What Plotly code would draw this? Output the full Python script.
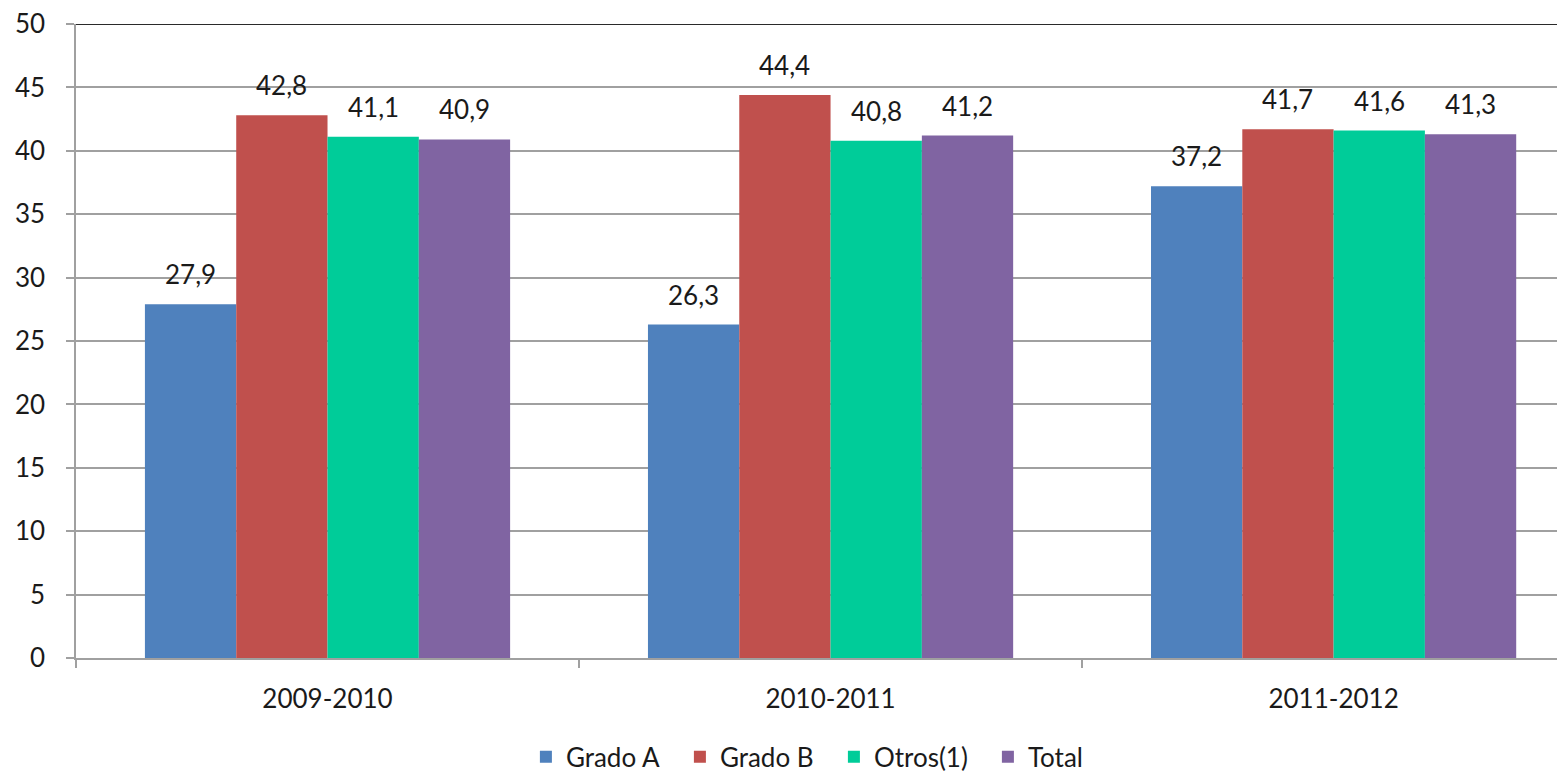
import plotly.graph_objects as go

categories = ["2009-2010", "2010-2011", "2011-2012"]
series_names = ["Grado A", "Grado B", "Otros(1)", "Total"]
grado_a = [27.9, 26.3, 37.2]
grado_b = [42.8, 44.4, 41.7]
otros = [41.1, 40.8, 41.6]
total = [40.9, 41.2, 41.3]
y_ticks = [0, 5, 10, 15, 20, 25, 30, 35, 40, 45, 50]

colors = ["#4f81bd", "#c0504d", "#00cc99", "#8064a2"]
values = [grado_a, grado_b, otros, total]

FONT = "Lato"
FS = 26
bargap = 0.274
n = len(series_names)
bw = (1 - bargap) / n

fig = go.Figure()
for name, vals, col in zip(series_names, values, colors):
    fig.add_trace(go.Bar(name=name, x=categories, y=vals, marker_color=col,
                         marker_line_width=0))

annotations = []
for si, vals in enumerate(values):
    for ci, v in enumerate(vals):
        annotations.append(dict(
            x=ci + (si - (n - 1) / 2) * bw, y=v, xref="x", yref="y",
            text=f"{v:.1f}".replace(".", ","), showarrow=False,
            yanchor="middle", yshift=30,
            font=dict(family=FONT, size=FS, color="#1a1a1a")))

fig.update_layout(
    width=1557, height=766,
    margin=dict(l=68, r=0, t=16, b=116, autoexpand=False),
    paper_bgcolor="white", plot_bgcolor="white",
    barmode="group", bargap=bargap, bargroupgap=0,
    font=dict(family=FONT, size=FS, color="#1a1a1a"),
    annotations=annotations,
    legend=dict(orientation="h", x=0.509, xanchor="center", y=-0.156, yanchor="middle",
                font=dict(family=FONT, size=FS), itemwidth=30, traceorder="normal",
                entrywidth=109, entrywidthmode="pixels"),
    shapes=[dict(type="line", xref="paper", yref="y", x0=0, x1=1, y0=50, y1=50,
                 line=dict(color="#2a2a2a", width=2), layer="above")],
)
fig.update_xaxes(type="category", range=[-0.5, 2.46], tickson="boundaries",
                 ticks="outside", ticklen=8, tickcolor="#a0a0a0", tickwidth=1.5,
                 showline=True, linecolor="#a0a0a0", linewidth=1.5,
                 showgrid=False, ticklabelstandoff=17, automargin=False,
                 tickfont=dict(family=FONT, size=FS, color="#1a1a1a"))
fig.update_yaxes(range=[0, 50], tickvals=y_ticks, ticks="outside", ticklen=8,
                 tickcolor="#a0a0a0", tickwidth=1.5,
                 showline=True, linecolor="#a0a0a0", linewidth=1.5,
                 showgrid=True, gridcolor="#a0a0a0", gridwidth=1.5,
                 zeroline=False, ticklabelstandoff=16, automargin=False,
                 ticklabeloverflow="allow",
                 tickfont=dict(family=FONT, size=FS, color="#1a1a1a"))

fig.write_html("out.html")
